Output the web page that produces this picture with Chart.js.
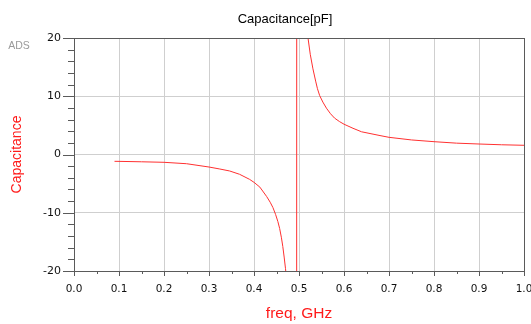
<!DOCTYPE html>
<html>
<head>
<meta charset="utf-8">
<script src="https://cdn.jsdelivr.net/npm/chart.js@4"></script>
<style>
  html, body { margin: 0; padding: 0; background: #fff; }
  #capChart { display: block; }
</style>
</head>
<body>
<canvas id="capChart" width="531" height="324"></canvas>
<script>
// frequency points (GHz) and capacitance (pF)
const freq = [0.09, 0.1, 0.15, 0.2, 0.25, 0.3, 0.324, 0.346, 0.368, 0.39, 0.4, 0.413, 0.428, 0.436, 0.442, 0.448, 0.453, 0.457, 0.461, 0.464, 0.467, 0.47, 0.473, 0.48, 0.49, 0.494,
  0.496, 0.50, 0.51, 0.515, 0.52, 0.525, 0.531, 0.537, 0.541, 0.546, 0.553, 0.561, 0.57, 0.579, 0.59, 0.6, 0.62, 0.639, 0.68, 0.7, 0.75, 0.8, 0.85, 0.9, 0.95, 1.0];
const capacitance = [-1.17, -1.18, -1.25, -1.34, -1.58, -2.15, -2.49, -2.83, -3.4, -4.26, -4.78, -5.6, -7.2, -8.2, -9.1, -10.3, -11.5, -12.7, -14.3, -15.8, -17.6, -19.6, -22, -31, -80, -300,
  400, 160, 50, 30, 20, 17.2, 14.7, 12.6, 11.3, 10.1, 9.0, 7.95, 7.0, 6.25, 5.65, 5.2, 4.5, 3.9, 3.25, 2.95, 2.5, 2.2, 1.95, 1.8, 1.67, 1.58];

const xTicks = [0, 0.1, 0.2, 0.3, 0.4, 0.5, 0.6, 0.7, 0.8, 0.9, 1.0];
const yTicks = [-20, -10, 0, 10, 20];

const titleText = 'Capacitance[pF]';
const xLabel = 'freq, GHz';
const yLabel = 'Capacitance';

const points = freq.map((f, i) => ({x: f, y: capacitance[i]}));

// frame, minor ticks, title and the ADS tag
const adsDecor = {
  id: 'adsDecor',
  afterDraw(chart) {
    const c = chart.ctx, a = chart.chartArea;
    const xs = chart.scales.x, ys = chart.scales.y;
    c.save();
    c.strokeStyle = '#5a5a5a';
    c.lineWidth = 1;
    c.strokeRect(Math.round(a.left) + 0.5, Math.round(a.top) + 0.5, Math.round(a.right - a.left), Math.round(a.bottom - a.top));

    c.beginPath();
    for (let v = -20; v <= 20; v += 2) {
      const py = Math.round(ys.getPixelForValue(v)) + 0.5;
      const len = (v % 10 === 0) ? 11 : 6;
      c.moveTo(a.left - len, py);
      c.lineTo(a.left, py);
    }
    for (let k = 0; k <= 20; k++) {
      const px = Math.round(xs.getPixelForValue(k * 0.05)) + 0.5;
      const len = (k % 2 === 0) ? 5 : 3;
      c.moveTo(px, a.bottom);
      c.lineTo(px, a.bottom + len);
    }
    c.stroke();

    c.fillStyle = '#000';
    c.font = '13px "Liberation Sans", Arial, sans-serif';
    c.textAlign = 'center';
    c.textBaseline = 'middle';
    c.fillText(titleText, 285, 19);

    c.fillStyle = '#9a9a9a';
    c.font = '10.5px "Liberation Sans", Arial, sans-serif';
    c.fillText('ADS', 19, 46);
    c.restore();
  }
};

new Chart(document.getElementById('capChart'), {
  type: 'scatter',
  data: {
    datasets: [{
      label: 'Capacitance',
      data: points,
      showLine: true,
      borderColor: '#ff3030',
      borderWidth: 1,
      pointRadius: 0,
      tension: 0
    }]
  },
  options: {
    responsive: false,
    animation: false,
    layout: { padding: { top: 38, right: 7, bottom: 0, left: 0 } },
    plugins: {
      legend: { display: false },
      tooltip: { enabled: false }
    },
    scales: {
      x: {
        type: 'linear',
        min: 0, max: 1,
        afterBuildTicks: s => { s.ticks = xTicks.map(v => ({value: v})); },
        afterFit: s => { s.height = 53; s.paddingLeft = 0; s.paddingRight = 0; },
        grid: { color: '#cfcfcf', drawTicks: false },
        border: { display: false },
        ticks: {
          padding: 12,
          color: '#111',
          font: { family: '"DejaVu Sans", Verdana, sans-serif', size: 10.5 },
          maxRotation: 0,
          autoSkip: false,
          callback: v => v.toFixed(1)
        },
        title: {
          display: true,
          text: xLabel,
          color: '#ff1a1a',
          font: { family: '"Liberation Sans", Arial, sans-serif', size: 15.5 },
          padding: { top: 0, bottom: 1 }
        }
      },
      y: {
        min: -20, max: 20,
        afterBuildTicks: s => { s.ticks = yTicks.map(v => ({value: v})); },
        afterFit: s => { s.width = 74; s.paddingTop = 0; s.paddingBottom = 0; },
        grid: { color: '#cfcfcf', drawTicks: false },
        border: { display: false },
        ticks: {
          padding: 13,
          color: '#111',
          font: { family: '"DejaVu Sans", Verdana, sans-serif', size: 11 }
        },
        title: {
          display: true,
          text: yLabel,
          color: '#ff1a1a',
          font: { family: '"Liberation Sans", Arial, sans-serif', size: 14 },
          padding: { top: 8.5, bottom: 0 }
        }
      }
    }
  },
  plugins: [adsDecor]
});
</script>
</body>
</html>
